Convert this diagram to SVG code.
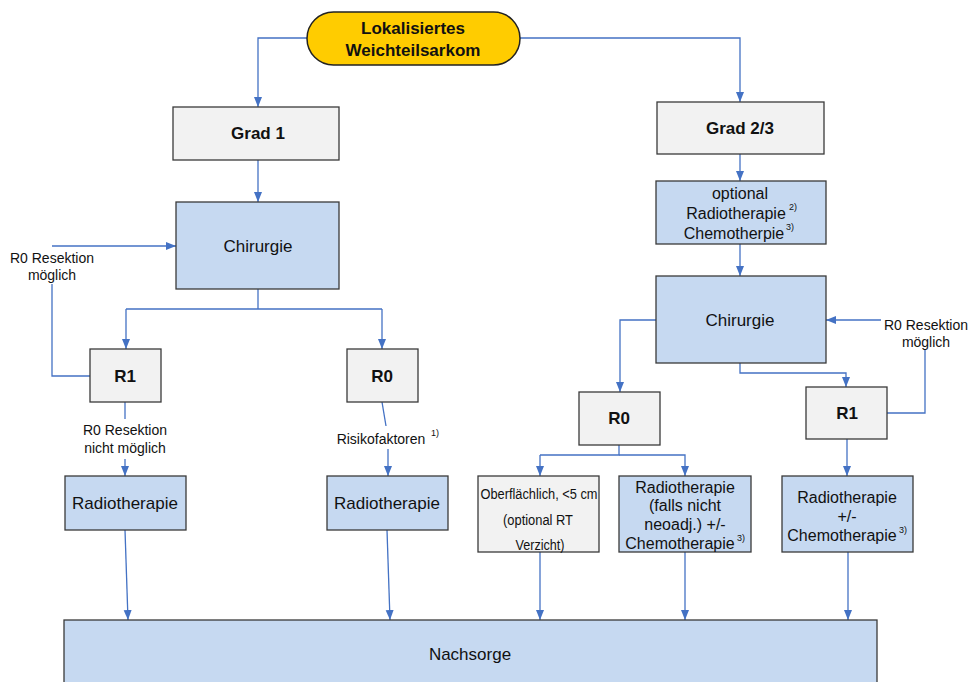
<svg xmlns="http://www.w3.org/2000/svg" width="971" height="682" viewBox="0 0 971 682">
<defs>
<marker id="ah" markerWidth="10" markerHeight="10" refX="10" refY="5" orient="auto" markerUnits="userSpaceOnUse"><path d="M0,1 L10,5 L0,9 Z" fill="#4472C4"/></marker>
<style>
.blue{fill:#C6D9F1;stroke:#3a3a3a;stroke-width:1.3}
.gray{fill:#F2F2F2;stroke:#3a3a3a;stroke-width:1.3}
.t{font-family:"Liberation Sans",Arial,sans-serif;fill:#111;text-anchor:middle;dominant-baseline:central}
.b{font-weight:bold;font-size:17px}
.r17{font-size:17px}
.r16{font-size:16px}
.r14{font-size:14px}
.sup{font-size:9px}
.c{fill:none;stroke:#4472C4;stroke-width:1.3}
.a{marker-end:url(#ah)}
</style>
</defs>
<rect width="971" height="682" fill="#fff"/>
<g id="connectors">
<path class="c a" d="M307,38 H258 V107"/>
<path class="c a" d="M520,38 H740 V102"/>
<path class="c a" d="M258,160 V202"/>
<path class="c" d="M258,289 V309"/>
<path class="c a" d="M126,309 H382 M126,309 V349"/>
<path class="c a" d="M382,309 V349"/>
<path class="c" d="M90,376 H52 V284"/>
<path class="c a" d="M52,246 H176"/>
<path class="c" d="M125,402 V419"/>
<path class="c a" d="M125,459 V476"/>
<path class="c" d="M382,402 L386,426"/>
<path class="c a" d="M388,449 V476"/>
<path class="c a" d="M125,530 L128,620"/>
<path class="c a" d="M387,530 L390,620"/>
<path class="c a" d="M740,154 V181"/>
<path class="c a" d="M740,244 V276"/>
<path class="c a" d="M656,320 H620 V392"/>
<path class="c a" d="M740,363 V373 H846 V387"/>
<path class="c" d="M887,413 H925 V350"/>
<path class="c a" d="M881,320 H826"/>
<path class="c" d="M619,445 V455 H540"/>
<path class="c a" d="M540,455 V476"/>
<path class="c a" d="M619,455 H685 V476"/>
<path class="c a" d="M847,439 V476"/>
<path class="c a" d="M540,552 V620"/>
<path class="c a" d="M685,552 V620"/>
<path class="c a" d="M848,552 V620"/>
</g>
<g id="start">
<rect x="307" y="12" width="213" height="53" rx="26.5" fill="#FFCC00" stroke="#222" stroke-width="1.5"/>
<text class="t b" x="413" y="28">Lokalisiertes</text>
<text class="t b" x="413" y="50">Weichteilsarkom</text>
</g>
<g id="grad1">
<rect class="gray" x="173" y="107" width="166" height="53"/>
<text class="t b" x="258" y="133">Grad 1</text>
</g>
<g id="chir1">
<rect class="blue" x="176" y="202" width="163" height="87"/>
<text class="t r17" x="258" y="246">Chirurgie</text>
</g>
<g id="lbl-r0-left">
<text class="t r14" x="52" y="258">R0 Resektion</text>
<text class="t r14" x="52" y="275">möglich</text>
</g>
<g id="r1-left">
<rect class="gray" x="90" y="349" width="71" height="53"/>
<text class="t b" x="125" y="376">R1</text>
</g>
<g id="lbl-r1-left">
<text class="t r14" x="125" y="430">R0 Resektion</text>
<text class="t r14" x="125" y="448">nicht möglich</text>
</g>
<g id="r0-left">
<rect class="gray" x="347" y="349" width="71" height="53"/>
<text class="t b" x="382" y="376">R0</text>
</g>
<g id="lbl-risk">
<text class="t r14" x="381" y="439">Risikofaktoren</text>
<text class="t sup" x="435" y="433">1)</text>
</g>
<g id="rad1">
<rect class="blue" x="65" y="476" width="121" height="54"/>
<text class="t r17" x="125" y="503">Radiotherapie</text>
</g>
<g id="rad2">
<rect class="blue" x="327" y="476" width="121" height="54"/>
<text class="t r17" x="387" y="503">Radiotherapie</text>
</g>
<g id="grad23">
<rect class="gray" x="657" y="102" width="167" height="52"/>
<text class="t b" x="740" y="128">Grad 2/3</text>
</g>
<g id="optional">
<rect class="blue" x="656" y="181" width="170" height="63"/>
<text class="t r16" x="740" y="193">optional</text>
<text class="t r16" x="736" y="213">Radiotherapie</text>
<text class="t sup" x="793" y="207">2)</text>
<text class="t r16" x="734" y="233">Chemotherpie</text>
<text class="t sup" x="790" y="227">3)</text>
</g>
<g id="chir2">
<rect class="blue" x="656" y="276" width="170" height="87"/>
<text class="t r17" x="740" y="320">Chirurgie</text>
</g>
<g id="lbl-r0-right">
<text class="t r14" x="926" y="325">R0 Resektion</text>
<text class="t r14" x="926" y="342">möglich</text>
</g>
<g id="r0-right">
<rect class="gray" x="579" y="392" width="81" height="53"/>
<text class="t b" x="619" y="418">R0</text>
</g>
<g id="r1-right">
<rect class="gray" x="806" y="387" width="81" height="52"/>
<text class="t b" x="847" y="413">R1</text>
</g>
<g id="oberfl">
<rect class="gray" x="478" y="476" width="121" height="76"/>
<text class="t r14" x="539" y="494" textLength="117" lengthAdjust="spacingAndGlyphs">Oberflächlich, &lt;5 cm</text>
<text class="t r14" x="538" y="520" textLength="70" lengthAdjust="spacingAndGlyphs">(optional RT</text>
<text class="t r14" x="540" y="545" textLength="49" lengthAdjust="spacingAndGlyphs">Verzicht)</text>
</g>
<g id="rad3">
<rect class="blue" x="619" y="476" width="132" height="76"/>
<text class="t r16" x="685" y="487">Radiotherapie</text>
<text class="t r16" x="685" y="505">(falls nicht</text>
<text class="t r16" x="685" y="524">neoadj.) +/-</text>
<text class="t r16" x="680" y="543">Chemotherapie</text>
<text class="t sup" x="741" y="538">3)</text>
</g>
<g id="rad4">
<rect class="blue" x="782" y="476" width="131" height="76"/>
<text class="t r16" x="847" y="497">Radiotherapie</text>
<text class="t r16" x="847" y="516">+/-</text>
<text class="t r16" x="842" y="535">Chemotherapie</text>
<text class="t sup" x="903" y="530">3)</text>
</g>
<g id="nachsorge">
<rect class="blue" x="64" y="620" width="813" height="80"/>
<text class="t r17" x="470" y="654">Nachsorge</text>
</g>
</svg>
